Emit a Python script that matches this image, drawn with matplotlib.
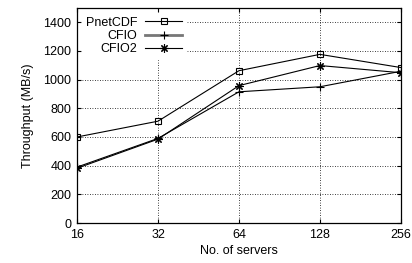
import matplotlib
matplotlib.use("Agg")
import matplotlib.pyplot as plt
from matplotlib.lines import Line2D

servers = [16, 32, 64, 128, 256]
pnetcdf = [600, 710, 1062, 1176, 1084]
cfio = [390, 590, 915, 950, 1058]
cfio2 = [382, 585, 958, 1098, 1048]
yticks = [0, 200, 400, 600, 800, 1000, 1200, 1400]

plt.rcParams['font.family'] = ['Liberation Sans', 'DejaVu Sans']
plt.rcParams['font.size'] = 9

fig = plt.figure(figsize=(4.12, 2.63), dpi=100)
ax = fig.add_axes([0.187, 0.152, 0.786, 0.818])

ax.plot(servers, pnetcdf, color='black', lw=0.8, marker='s', ms=5, mfc='none', mec='black', mew=0.8)
ax.plot(servers, cfio, color='black', lw=0.8, marker='+', ms=6, mew=0.8)
ax.plot(servers, cfio2, color='black', lw=0.8, marker=(8, 2, 0), ms=6, mew=0.8)

ax.set_xscale('log', base=2)
ax.set_xlim(16, 256)
ax.set_xticks(servers)
ax.set_xticklabels([str(s) for s in servers])
ax.minorticks_off()
ax.set_ylim(0, 1500)
ax.set_yticks(yticks)
ax.grid(True, linestyle=(0, (1, 2)), color='black', lw=0.6)
ax.tick_params(direction='in', top=True, right=True, length=3, width=0.8, pad=4)
for s in ax.spines.values():
    s.set_linewidth(0.9)

ax.set_xlabel('No. of servers', labelpad=3)
ax.set_ylabel('Throughput (MB/s)', labelpad=7)

handles = [
    Line2D([], [], color='black', lw=0.8, marker='s', ms=5, mfc='none', mew=0.8),
    Line2D([], [], color='#777777', lw=2, marker='+', ms=6, mec='black', mew=0.8),
    Line2D([], [], color='black', lw=0.8, marker=(8, 2, 0), ms=6, mew=0.8),
]
leg = ax.legend(handles, ['PnetCDF', 'CFIO', 'CFIO2'], loc='upper left', markerfirst=False,
                frameon=True, framealpha=1, edgecolor='white', fancybox=False,
                handlelength=3.0, handletextpad=0.6, borderpad=0.3, labelspacing=0.1,
                borderaxespad=0.4)
for t in leg.get_texts():
    t.set_ha('right')
    t.set_position((0, 0))

fig.savefig('out.png', dpi=100)
